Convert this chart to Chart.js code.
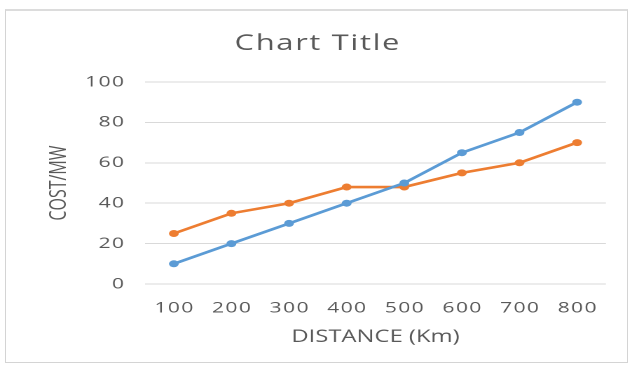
<!DOCTYPE html>
<html>
<head>
<meta charset="utf-8">
<script src="https://cdn.jsdelivr.net/npm/chart.js@4"></script>
<style>
  html, body { margin: 0; padding: 0; background: #ffffff; }
  body { width: 632px; height: 366px; position: relative; overflow: hidden; }
  #frame {
    position: absolute; left: 5px; top: 9px; width: 621px; height: 351px;
    border: 1px solid #d4d4d4; border-top: 2px solid #dcdcdc; background: #ffffff;
  }
  #wrap {
    position: absolute; left: 0; top: 0; width: 451px; height: 366px;
    transform: scaleX(1.4013); transform-origin: 0 0;
  }
  canvas { display: block; }
</style>
</head>
<body>
<div id="frame"></div>
<div id="wrap"><canvas id="chart" width="451" height="366"></canvas></div>
<script>
// Distance categories along the x axis
const distances = ['100', '200', '300', '400', '500', '600', '700', '800'];
// Cost per MW for the two series
const seriesBlue = [10, 20, 30, 40, 50, 65, 75, 90];
const seriesOrange = [25, 35, 40, 48, 48, 55, 60, 70];
// Value axis range
const yMin = 0;
const yMax = 100;
const yStep = 20;

const textColor = '#595959';
const gridColor = '#d9d9d9';
const family = "'Open Sans', 'DejaVu Sans', sans-serif";

// Draws a text element with extra tracking between characters
function withSpacing(target, method, spacing, dx) {
  if (!target || target['_spaced_' + method]) return;
  const original = target[method];
  target[method] = function (...args) {
    const ctx = this.ctx;
    ctx.save();
    ctx.letterSpacing = spacing;
    if (dx) ctx.translate(dx, 0);
    const result = original.apply(this, args);
    ctx.restore();
    return result;
  };
  target['_spaced_' + method] = true;
}

const trackingPlugin = {
  id: 'tracking',
  afterLayout(chart) {
    withSpacing(chart.scales.x, 'drawLabels', '1px', 0.5);
    withSpacing(chart.scales.y, 'drawLabels', '1px', 0);
    withSpacing(chart.titleBlock, 'draw', '1.2px', 0.6);
  }
};

new Chart(document.getElementById('chart'), {
  type: 'line',
  data: {
    labels: distances,
    datasets: [
      {
        label: 'Series1',
        data: seriesBlue,
        borderColor: '#5b9bd5',
        backgroundColor: '#5b9bd5',
        borderWidth: 2.6,
        pointRadius: 3.5,
        pointBorderWidth: 0,
        tension: 0
      },
      {
        label: 'Series2',
        data: seriesOrange,
        borderColor: '#ed7d31',
        backgroundColor: '#ed7d31',
        borderWidth: 2.6,
        pointRadius: 3.5,
        pointBorderWidth: 0,
        tension: 0
      }
    ]
  },
  plugins: [trackingPlugin],
  options: {
    responsive: false,
    animation: false,
    devicePixelRatio: 2,
    layout: { padding: { top: 10, left: 20, right: 18.6, bottom: 0 } },
    plugins: {
      legend: { display: false },
      tooltip: { enabled: false },
      title: {
        display: true,
        text: 'Chart Title',
        color: textColor,
        font: { family: family, size: 22, weight: 'normal' },
        padding: { top: 20.6, bottom: 25 }
      }
    },
    scales: {
      x: {
        offset: true,
        grid: { display: false, drawTicks: false },
        border: { display: false },
        ticks: {
          color: textColor,
          padding: 15,
          font: { family: family, size: 15 }
        },
        title: {
          display: true,
          text: 'DISTANCE (Km)',
          color: textColor,
          font: { family: family, size: 17 },
          padding: { top: 0, bottom: 18.8 }
        },
        afterFit: (scale) => { scale.height = 82; }
      },
      y: {
        min: yMin,
        max: yMax,
        grid: { color: gridColor, lineWidth: 1, drawTicks: false },
        border: { display: false },
        ticks: {
          stepSize: yStep,
          color: textColor,
          padding: 14,
          font: { family: family, size: 15 }
        },
        title: {
          display: true,
          text: 'COST/MW',
          color: textColor,
          font: { family: family, size: 16 },
          padding: { top: 12.9, bottom: 0 }
        },
        afterFit: (scale) => { scale.width = 83.5; }
      }
    }
  }
});
</script>
</body>
</html>
